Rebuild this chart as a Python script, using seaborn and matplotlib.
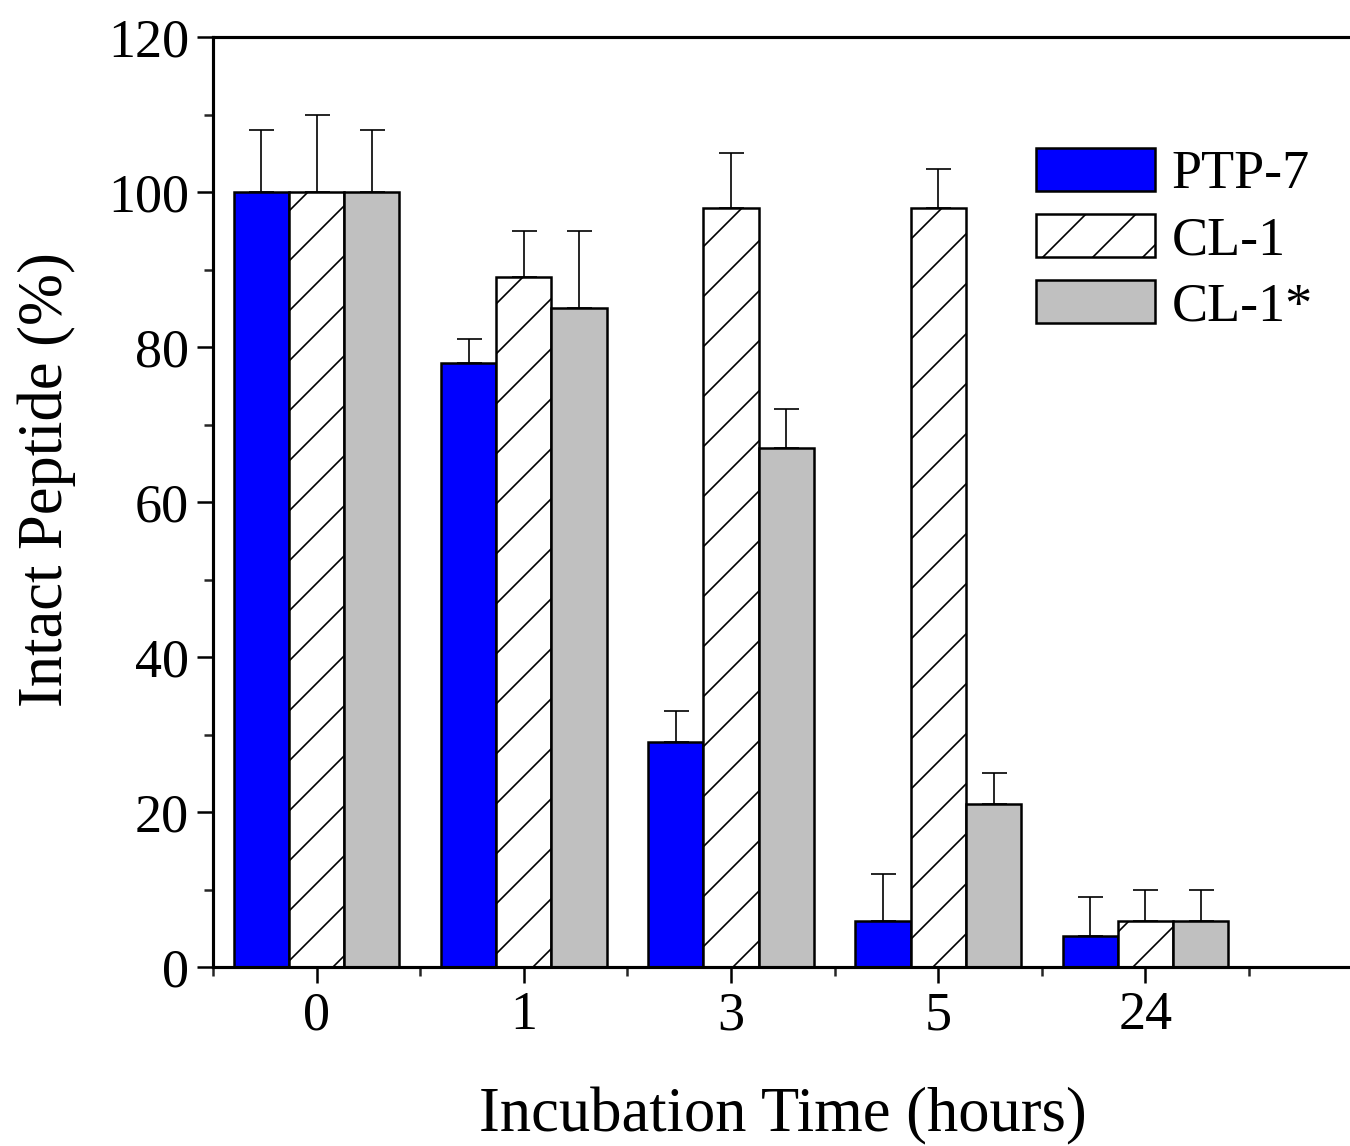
import numpy as np
import pandas as pd
import matplotlib
matplotlib.use("Agg")
import matplotlib.pyplot as plt
import seaborn as sns

times = ["0", "1", "3", "5", "24"]
series = ["PTP-7", "CL-1", "CL-1*"]
ptp7 = [100, 78, 29, 6, 4]
cl1 = [100, 89, 98, 98, 6]
cl1s = [100, 85, 67, 21, 6]
ptp7_err = [8, 3, 4, 6, 5]
cl1_err = [10, 6, 7, 5, 4]
cl1s_err = [8, 10, 5, 4, 4]

values = [ptp7, cl1, cl1s]
errors = [ptp7_err, cl1_err, cl1s_err]

rows = []
for s, vals in zip(series, values):
    for t, v in zip(times, vals):
        rows.append({"time": t, "series": s, "value": v})
df = pd.DataFrame(rows)

sns.set_theme(style="ticks")
plt.rcParams["font.family"] = ["Liberation Serif", "DejaVu Serif"]
plt.rcParams["hatch.linewidth"] = 0.8
plt.rcParams["hatch.color"] = "black"
plt.rcParams["text.color"] = "black"

DPI = 150
fig = plt.figure(figsize=(1350 / DPI, 1146 / DPI), dpi=DPI)
ax = fig.add_axes([213 / 1350, 179 / 1146, 1 - 213 / 1350 + 0.002, (967 - 37) / 1146])

palette = {"PTP-7": "#0000FF", "CL-1": "#FFFFFF", "CL-1*": "#C0C0C0"}
sns.barplot(data=df, x="time", y="value", hue="series", order=times,
            hue_order=series, palette=palette, width=0.8, errorbar=None,
            edgecolor="black", linewidth=1.2, saturation=1, ax=ax)

bar_conts = list(ax.containers)
for i, cont in enumerate(bar_conts):
    xs = [p.get_x() + p.get_width() / 2 for p in cont.patches]
    ys = [p.get_height() for p in cont.patches]
    ax.errorbar(xs, ys, yerr=[np.zeros(len(ys)), errors[i]], fmt="none",
                ecolor="black", elinewidth=0.8, capsize=6, capthick=0.8, zorder=1)
    if series[i] == "CL-1":
        for p in cont.patches:
            p.set_hatch("/")

ax.set_ylim(0, 120)
ax.set_xlim(-0.5, 5.0)
ax.set_yticks(np.arange(0, 121, 20))
ax.set_yticks(np.arange(10, 120, 20), minor=True)
ax.set_xticks(np.arange(-0.5, 5.0, 1.0), minor=True)

for side in ["left", "top", "bottom"]:
    ax.spines[side].set_linewidth(1.5)
    ax.spines[side].set_color("black")
ax.spines["right"].set_visible(False)

ax.tick_params(axis="both", which="major", direction="out", length=7.5, width=1.2,
               labelsize=26, colors="black", pad=4)
ax.tick_params(axis="both", which="minor", direction="out", length=4.5, width=1.2)

ax.set_xlabel("Incubation Time (hours)", fontsize=30, labelpad=22, color="black")
ax.set_ylabel("Intact Peptide (%)", fontsize=30, color="black")
ax.yaxis.set_label_coords(-0.120, 0.524)

leg = ax.legend(loc="upper right", bbox_to_anchor=(0.984, 0.904), frameon=False,
                fontsize=26, handlelength=2.2, handleheight=0.85,
                labelspacing=0.25, handletextpad=0.3, borderaxespad=0)
for i, h in enumerate(leg.legend_handles):
    h.set_edgecolor("black")
    h.set_linewidth(1.2)
    if series[i] == "CL-1":
        h.set_hatch("/")
for t in leg.get_texts():
    t.set_color("black")

fig.savefig("out.png", dpi=DPI)
